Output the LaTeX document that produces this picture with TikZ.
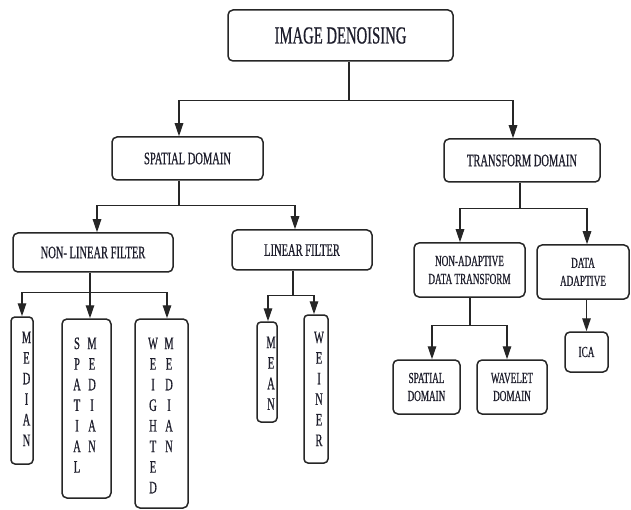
\documentclass[tikz,border=0pt]{standalone}
\usepackage{fontspec}
\usetikzlibrary{arrows.meta}
\newfontfamily\cf[FakeStretch=0.6,FakeBold=0.6]{Liberation Serif}
\definecolor{txt}{HTML}{1E1E2C}
\definecolor{ln}{HTML}{262626}
\newcommand{\vletters}[1]{\begin{tabular}{@{}c@{}}#1\end{tabular}}
\begin{document}
\begin{tikzpicture}[x=1pt,y=-1pt,
  box/.style={draw=ln, line width=1.5pt, rounded corners=5pt, inner sep=0pt, text=txt, align=center},
  tA/.style={font=\cf\fontsize{24.5}{28}\selectfont},
  tB/.style={font=\cf\fontsize{17.5}{20}\selectfont},
  tC/.style={font=\cf\fontsize{15.3}{18}\selectfont},
  vtxt/.style={inner sep=0pt, text=txt, anchor=north, font=\cf\fontsize{17.5}{20.6}\selectfont},
  conn/.style={draw=ln, line width=1.3pt},
  arr/.style={conn, -{Triangle[length=13pt,width=8.5pt]}}
]
\useasboundingbox[fill=white] (0,0) rectangle (631,510);

% level 0
\node[box, tA, minimum width=225, minimum height=51] (top) at (340.5,35.5) {IMAGE DENOISING};
% level 1
\node[box, tB, minimum width=151, minimum height=43] (sd) at (187.5,158.5) {SPATIAL DOMAIN};
\node[box, tB, minimum width=156, minimum height=43] (td) at (522,160.5) {TRANSFORM DOMAIN};
% level 2
\node[box, tB, minimum width=160, minimum height=39] (nlf) at (93,252.5) {NON- LINEAR FILTER};
\node[box, tB, minimum width=140, minimum height=40] (lf) at (302,250) {LINEAR FILTER};
\node[box, tC, minimum width=111, minimum height=54] (nadt) at (469.5,270) {NON-ADAPTIVE\\DATA TRANSFORM};
\node[box, tC, minimum width=92, minimum height=54] (dad) at (583,272) {DATA\\ADAPTIVE};
% level 3 - transform
\node[box, tC, minimum width=67, minimum height=54] (sd2) at (426.5,387) {SPATIAL\\DOMAIN};
\node[box, tC, minimum width=70, minimum height=54] (wd) at (512,387) {WAVELET\\DOMAIN};
\node[box, tC, minimum width=43, minimum height=40] (ica) at (586.5,352) {ICA};
% level 3 - spatial (vertical boxes)
\node[box, rounded corners=4pt, minimum width=22, minimum height=147] (median) at (22,390.5) {};
\node[box, rounded corners=5pt, minimum width=49, minimum height=179] (smed) at (86.5,408.5) {};
\node[box, rounded corners=5pt, minimum width=53, minimum height=189] (wmed) at (161.5,413.5) {};
\node[box, rounded corners=4pt, minimum width=20, minimum height=100] (mean) at (267,372) {};
\node[box, rounded corners=4pt, minimum width=24, minimum height=148] (weiner) at (316,389) {};

\node[vtxt] (medianT) at ([xshift=4.5pt,yshift=-12.2pt]median.north) {\vletters{M\\E\\D\\I\\A\\N}};
\node[vtxt] (smedL) at ([xshift=-9.5pt,yshift=-16.2pt]smed.north) {\vletters{S\\P\\A\\T\\I\\A\\L}};
\node[vtxt] (smedR) at ([xshift=5.5pt,yshift=-16.2pt]smed.north) {\vletters{M\\E\\D\\I\\A\\N}};
\node[vtxt] (wmedL) at ([xshift=-8.5pt,yshift=-16.2pt]wmed.north) {\vletters{W\\E\\I\\G\\H\\T\\E\\D}};
\node[vtxt] (wmedR) at ([xshift=7.5pt,yshift=-16.2pt]wmed.north) {\vletters{M\\E\\D\\I\\A\\N}};
\node[vtxt] (meanT) at ([xshift=4pt,yshift=-12.2pt]mean.north) {\vletters{M\\E\\A\\N}};
\node[vtxt] (weinerT) at ([xshift=3pt,yshift=-14.2pt]weiner.north) {\vletters{W\\E\\I\\N\\E\\R}};

% connectors
\draw[conn] ([xshift=8.5pt]top.south) -- ++(0,39) coordinate (j1);
\draw[arr] (j1) -| ([xshift=-8.5pt]sd.north);
\draw[arr] (j1) -| ([xshift=-9pt]td.north);

\draw[conn] ([xshift=-8.5pt]sd.south) -- ++(0,25) coordinate (j2);
\draw[arr] (j2) -| ([xshift=4pt]nlf.north);
\draw[arr] (j2) -| ([xshift=-7pt]lf.north);

\draw[conn] ([xshift=-3pt]nlf.south) -- ++(0,20) coordinate (j3);
\draw[arr] (j3) -| (median.north);
\draw[arr] (j3) -- ([xshift=3.5pt]smed.north);
\draw[arr] (j3) -| ([xshift=5.5pt]wmed.north);

\draw[conn] ([xshift=-9pt]lf.south) -- ++(0,25) coordinate (j4);
\draw[arr] (j4) -| ([xshift=1pt]mean.north);
\draw[arr] (j4) -| ([xshift=-2pt]weiner.north);

\draw[conn] ([xshift=-2pt]td.south) -- ++(0,26) coordinate (j5);
\draw[arr] (j5) -| ([xshift=-9.5pt]nadt.north);
\draw[arr] (j5) -| ([xshift=4pt]dad.north);

\draw[conn] ([xshift=0.5pt]nadt.south) -- ++(0,28) coordinate (j6);
\draw[arr] (j6) -| ([xshift=5.5pt]sd2.north);
\draw[arr] (j6) -| ([xshift=-5pt]wd.north);

\draw[arr] (dad.south -| ica.north) -- (ica.north);
\end{tikzpicture}
\end{document}
